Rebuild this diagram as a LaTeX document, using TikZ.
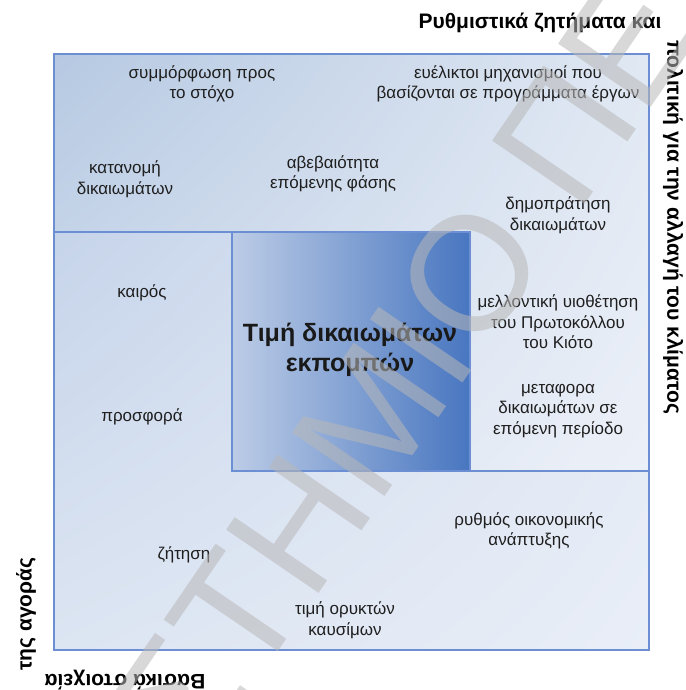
\documentclass[tikz,border=0pt]{standalone}
\usepackage{fontspec}
\setmainfont{Liberation Sans}
\usetikzlibrary{shadings}
\definecolor{uA}{HTML}{B6C9E2}
\definecolor{uB}{HTML}{E0E8F3}
\definecolor{uC}{HTML}{D5E0EF}
\definecolor{uD}{HTML}{ECF0F8}
\definecolor{lA}{HTML}{C6D4EA}
\definecolor{lB}{HTML}{E2E9F5}
\definecolor{lC}{HTML}{DCE5F2}
\definecolor{lD}{HTML}{E9EEF7}
\definecolor{cL}{HTML}{BCCCE6}
\definecolor{cR}{HTML}{4876C0}
\definecolor{bordercol}{HTML}{6B8FD2}
\definecolor{wmark}{HTML}{B8B8B8}
\begin{document}
\begin{tikzpicture}[x=1pt,y=-1pt,
  lbl/.style={align=center,font=\fontsize{17}{20.5}\selectfont,text=black!88,inner sep=0pt},
  outerlbl/.style={font=\fontsize{21}{24}\selectfont\bfseries,text=black,inner sep=0pt},
  titlelbl/.style={align=center,font=\fontsize{25}{30}\selectfont\bfseries,text=black!90,inner sep=0pt},
  edgeline/.style={draw=bordercol,line width=1.2pt},
  wm/.style={font=\fontsize{163}{163}\selectfont,text=wmark,inner sep=0pt,rotate=55.6}]
\fill[white] (0,0) rectangle (685,690);
\useasboundingbox (0,0) rectangle (685,690);
% upper-right L region
\shadedraw[edgeline,upper left=uA,upper right=uB,lower left=uC,lower right=uD]
  (54,54) -- (649,54) -- (649,471) -- (470,471) -- (470,232) -- (54,232) -- cycle;
% lower-left L region
\shadedraw[edgeline,upper left=lA,upper right=lB,lower left=lC,lower right=lD]
  (54,232) -- (232,232) -- (232,471) -- (649,471) -- (649,650) -- (54,650) -- cycle;
% centre box
\shadedraw[edgeline,left color=cL,right color=cR] (232,232) rectangle (470,471);

\node[titlelbl] (title) at (350,350) {Τιμή δικαιωμάτων\\εκπομπών};

\node[lbl] (symm) at (202,84) {συμμόρφωση προς\\το στόχο};
\node[lbl] (eyel) at (508,84) {ευέλικτοι μηχανισμοί που\\βασίζονται σε προγράμματα έργων};
\node[lbl] (katan) at (125,179) {κατανομή\\δικαιωμάτων};
\node[lbl] (abeb) at (333,174) {αβεβαιότητα\\επόμενης φάσης};
\node[lbl] (dhmo) at (558,215) {δημοπράτηση\\δικαιωμάτων};
\node[lbl] (kairos) at (142,293) {καιρός};
\node[lbl] (mellon) at (558,322) {μελλοντική υιοθέτηση\\του Πρωτοκόλλου\\του Κιότο};
\node[lbl] (metaf) at (558,411) {μεταφορα\\δικαιωμάτων σε\\επόμενη περίοδο};
\node[lbl] (prosf) at (142,417) {προσφορά};
\node[lbl] (zhths) at (184,555) {ζήτηση};
\node[lbl] (rythm) at (529,531) {ρυθμός οικονομικής\\ανάπτυξης};
\node[lbl] (orykt) at (345,620) {τιμή ορυκτών\\καυσίμων};

\node[outerlbl] (topl) at (540,23) {Ρυθμιστικά ζητήματα και};
\node[outerlbl,rotate=-90] (rightl) at (673,227) {πολιτική για την αλλαγή του κλίματος};
\node[outerlbl,rotate=180] (bottoml) at (125,680) {Βασικά στοιχεία};
\node[outerlbl,rotate=90] (leftl) at (26,614) {της αγοράς};

% watermark
\begin{scope}[opacity=0.55,transparency group]
\clip (0,0) rectangle (685,690);
\coordinate (wmp) at (480,358);
\node[wm,anchor=base east] (wm1) at (wmp) {ΠΑΝΕΠΙΣΤΗΜΙ};
\node[wm,anchor=base west] (wm2) at (wmp) {Ο ΠΕΙΡΑΙΩΣ};
\end{scope}
\end{tikzpicture}
\end{document}
